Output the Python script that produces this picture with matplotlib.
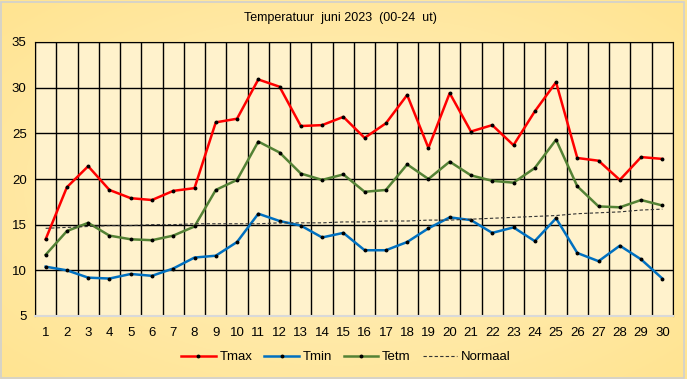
import matplotlib.pyplot as plt
import numpy as np
from matplotlib.patches import Rectangle

plt.rcParams['font.family'] = ['Liberation Sans', 'DejaVu Sans']

# Daily values, June 2023
days = list(range(1, 31))
tmax = [13.4, 19.1, 21.4, 18.8, 17.9, 17.7, 18.7, 19.0, 26.2, 26.6,
        30.9, 30.1, 25.8, 25.9, 26.8, 24.5, 26.1, 29.2, 23.4, 29.4,
        25.2, 25.9, 23.7, 27.4, 30.6, 22.3, 22.0, 19.9, 22.4, 22.2]
tmin = [10.4, 10.0, 9.2, 9.1, 9.6, 9.4, 10.2, 11.4, 11.6, 13.1,
        16.2, 15.4, 14.9, 13.6, 14.1, 12.2, 12.2, 13.1, 14.6, 15.8,
        15.5, 14.1, 14.7, 13.2, 15.7, 11.9, 11.0, 12.7, 11.2, 9.1]
tetm = [11.7, 14.3, 15.2, 13.8, 13.4, 13.3, 13.8, 14.8, 18.8, 19.9,
        24.1, 22.9, 20.6, 19.9, 20.5, 18.6, 18.8, 21.6, 20.0, 21.9,
        20.4, 19.8, 19.6, 21.2, 24.3, 19.2, 17.0, 16.9, 17.7, 17.1]
normaal = [14.6, 14.7, 14.8, 14.9, 14.9, 15.0, 15.0, 15.1, 15.1, 15.1,
           15.1, 15.2, 15.2, 15.2, 15.3, 15.3, 15.4, 15.4, 15.5, 15.5,
           15.6, 15.7, 15.8, 15.9, 16.0, 16.2, 16.3, 16.4, 16.6, 16.7]

W, H = 687, 379
fig = plt.figure(figsize=(W / 100, H / 100), dpi=100)

# soft background gradient
bg = fig.add_axes([0, 0, 1, 1], zorder=-10)
yy, xx = np.mgrid[0:1:200j, 0:1:200j]
r = np.sqrt(((xx - 0.5) / 0.7) ** 2 + ((yy - 0.5) / 0.7) ** 2)
r = np.clip(r, 0, 1)
c0 = np.array([255, 240, 196]) / 255
c1 = np.array([255, 228, 145]) / 255
img = c0[None, None, :] * (1 - r[..., None]) + c1[None, None, :] * r[..., None]
bg.imshow(img, extent=[0, 1, 0, 1], aspect='auto')
bg.axis('off')
fig.patches.append(Rectangle((0.5 / W, 1.5 / H), 683 / W, 376 / H, transform=fig.transFigure,
                             fill=False, edgecolor='#d0d0d0', linewidth=1.2))

ax = fig.add_axes([35 / W, 1 - 316 / H, 638 / W, 274 / H])
ax.set_facecolor('#FFF2CC')

mk = dict(marker='o', ms=1.8, mfc='black', mec='black')
ax.plot(days, tmax, color='#FF0000', lw=1.8, label='Tmax', **mk)
ax.plot(days, tmin, color='#0070C0', lw=1.8, label='Tmin', **mk)
ax.plot(days, tetm, color='#548235', lw=1.8, label='Tetm', **mk)
ax.plot(days, normaal, color='#333333', lw=0.8, ls=(0, (3, 2)), label='Normaal')

ax.set_xlim(0.5, 30.5)
ax.set_ylim(5, 35)
ax.set_yticks(range(5, 36, 5))
ax.set_xticks(days)
ax.set_xticks(np.arange(0.5, 31, 1), minor=True)
ax.grid(True, which='major', axis='y', color='black', lw=1)
ax.grid(True, which='minor', axis='x', color='black', lw=1)
ax.tick_params(which='both', length=0, labelsize=9.5, pad=8)
ax.tick_params(axis='y', pad=6)
for s in ['left', 'top', 'right']:
    ax.spines[s].set_color('black')
ax.spines['bottom'].set_color('#d9d9d9')
ax.spines['bottom'].set_linewidth(1.5)

fig.text(340 / W, 1 - 18 / H, 'Temperatuur  juni 2023  (00-24  ut)', ha='center', va='center', fontsize=9)

fig.legend(loc='center', bbox_to_anchor=(346 / W, 1 - 357 / H), ncol=4, frameon=False,
           fontsize=9.5, handlelength=2.6, columnspacing=0.9, handletextpad=0.3)

fig.savefig('out.png', dpi=100)
